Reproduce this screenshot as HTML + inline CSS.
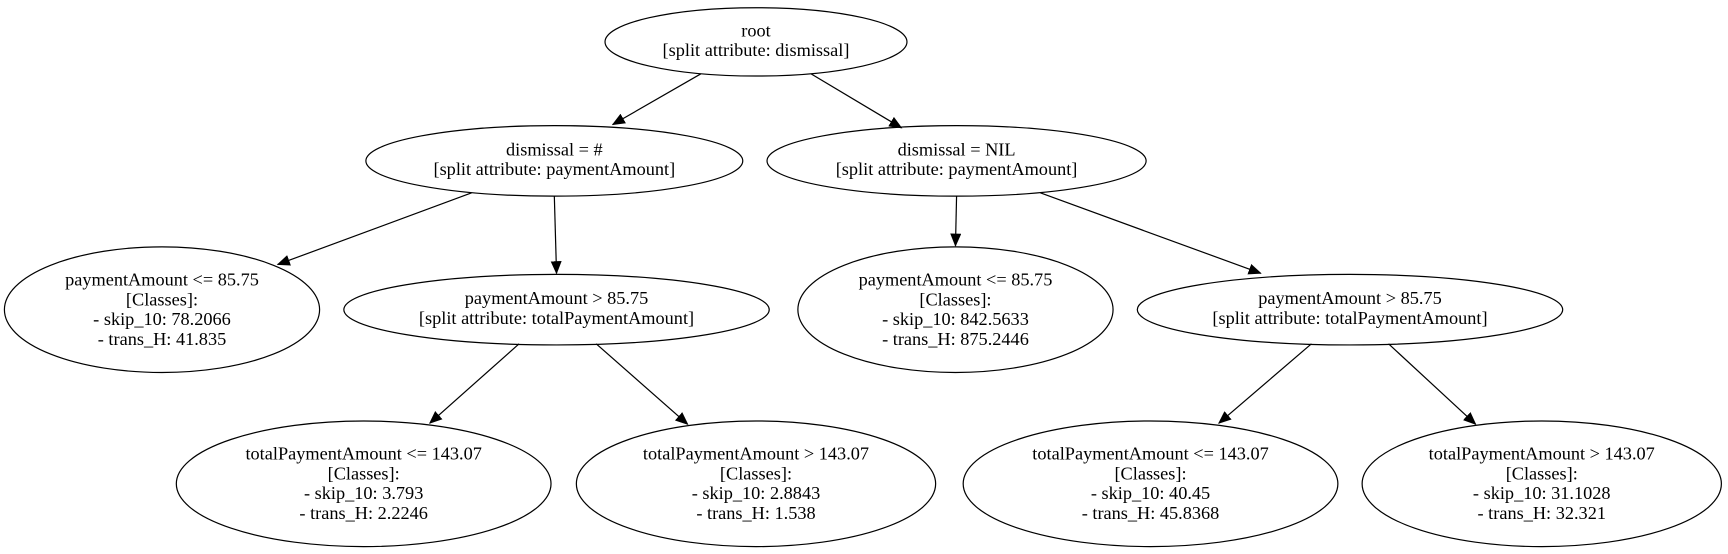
<!DOCTYPE html>
<html><head><meta charset="utf-8"><style>
html,body{margin:0;padding:0;background:#fff;width:1728px;height:554px;overflow:hidden}
text{font-family:"Liberation Serif",serif;font-size:16.6px;fill:#000}
</style></head><body>
<svg width="1728" height="554" viewBox="0 0 1568 502.7" preserveAspectRatio="none" xmlns="http://www.w3.org/2000/svg">
<defs><marker id="a" markerWidth="12" markerHeight="10" refX="11" refY="5" orient="auto" markerUnits="userSpaceOnUse"><polygon points="0,0 12,5 0,10" fill="#000"/></marker></defs>
<g fill="none" stroke="#000" stroke-width="1.1">
<ellipse cx="686" cy="38" rx="137" ry="31"/>
<ellipse cx="503" cy="146" rx="171" ry="32"/>
<ellipse cx="868" cy="146" rx="172" ry="32"/>
<ellipse cx="147" cy="281" rx="143" ry="57"/>
<ellipse cx="505" cy="281" rx="193" ry="32"/>
<ellipse cx="867" cy="281" rx="143" ry="57"/>
<ellipse cx="1225" cy="281" rx="193" ry="32"/>
<ellipse cx="330" cy="439" rx="170" ry="57"/>
<ellipse cx="686" cy="439" rx="163" ry="57"/>
<ellipse cx="1044" cy="439" rx="170" ry="57"/>
<ellipse cx="1399" cy="439" rx="163" ry="57"/>
<g marker-end="url(#a)">
<line x1="636" y1="67" x2="556" y2="113"/>
<line x1="736" y1="67" x2="818" y2="116"/>
<line x1="428" y1="175" x2="252" y2="240"/>
<line x1="503" y1="178" x2="505" y2="248"/>
<line x1="868" y1="178" x2="867" y2="223"/>
<line x1="944" y1="175" x2="1144" y2="248"/>
<line x1="471" y1="312" x2="390" y2="384"/>
<line x1="541" y1="312" x2="624" y2="385"/>
<line x1="1190" y1="312" x2="1106" y2="384"/>
<line x1="1260" y1="312" x2="1339" y2="385"/>
</g></g>
<g text-anchor="middle">
<text x="686" y="33">root</text><text x="686" y="51">[split attribute: dismissal]</text>
<text x="503" y="141">dismissal = #</text><text x="503" y="159">[split attribute: paymentAmount]</text>
<text x="868" y="141">dismissal = NIL</text><text x="868" y="159">[split attribute: paymentAmount]</text>
<text x="147" y="259">paymentAmount &lt;= 85.75</text><text x="147" y="277">[Classes]:</text><text x="147" y="295">- skip_10: 78.2066</text><text x="147" y="313">- trans_H: 41.835</text>
<text x="505" y="276">paymentAmount &gt; 85.75</text><text x="505" y="294">[split attribute: totalPaymentAmount]</text>
<text x="867" y="259">paymentAmount &lt;= 85.75</text><text x="867" y="277">[Classes]:</text><text x="867" y="295">- skip_10: 842.5633</text><text x="867" y="313">- trans_H: 875.2446</text>
<text x="1225" y="276">paymentAmount &gt; 85.75</text><text x="1225" y="294">[split attribute: totalPaymentAmount]</text>
<text x="330" y="417">totalPaymentAmount &lt;= 143.07</text><text x="330" y="435">[Classes]:</text><text x="330" y="453">- skip_10: 3.793</text><text x="330" y="471">- trans_H: 2.2246</text>
<text x="686" y="417">totalPaymentAmount &gt; 143.07</text><text x="686" y="435">[Classes]:</text><text x="686" y="453">- skip_10: 2.8843</text><text x="686" y="471">- trans_H: 1.538</text>
<text x="1044" y="417">totalPaymentAmount &lt;= 143.07</text><text x="1044" y="435">[Classes]:</text><text x="1044" y="453">- skip_10: 40.45</text><text x="1044" y="471">- trans_H: 45.8368</text>
<text x="1399" y="417">totalPaymentAmount &gt; 143.07</text><text x="1399" y="435">[Classes]:</text><text x="1399" y="453">- skip_10: 31.1028</text><text x="1399" y="471">- trans_H: 32.321</text>
</g>
</svg>
</body></html>
